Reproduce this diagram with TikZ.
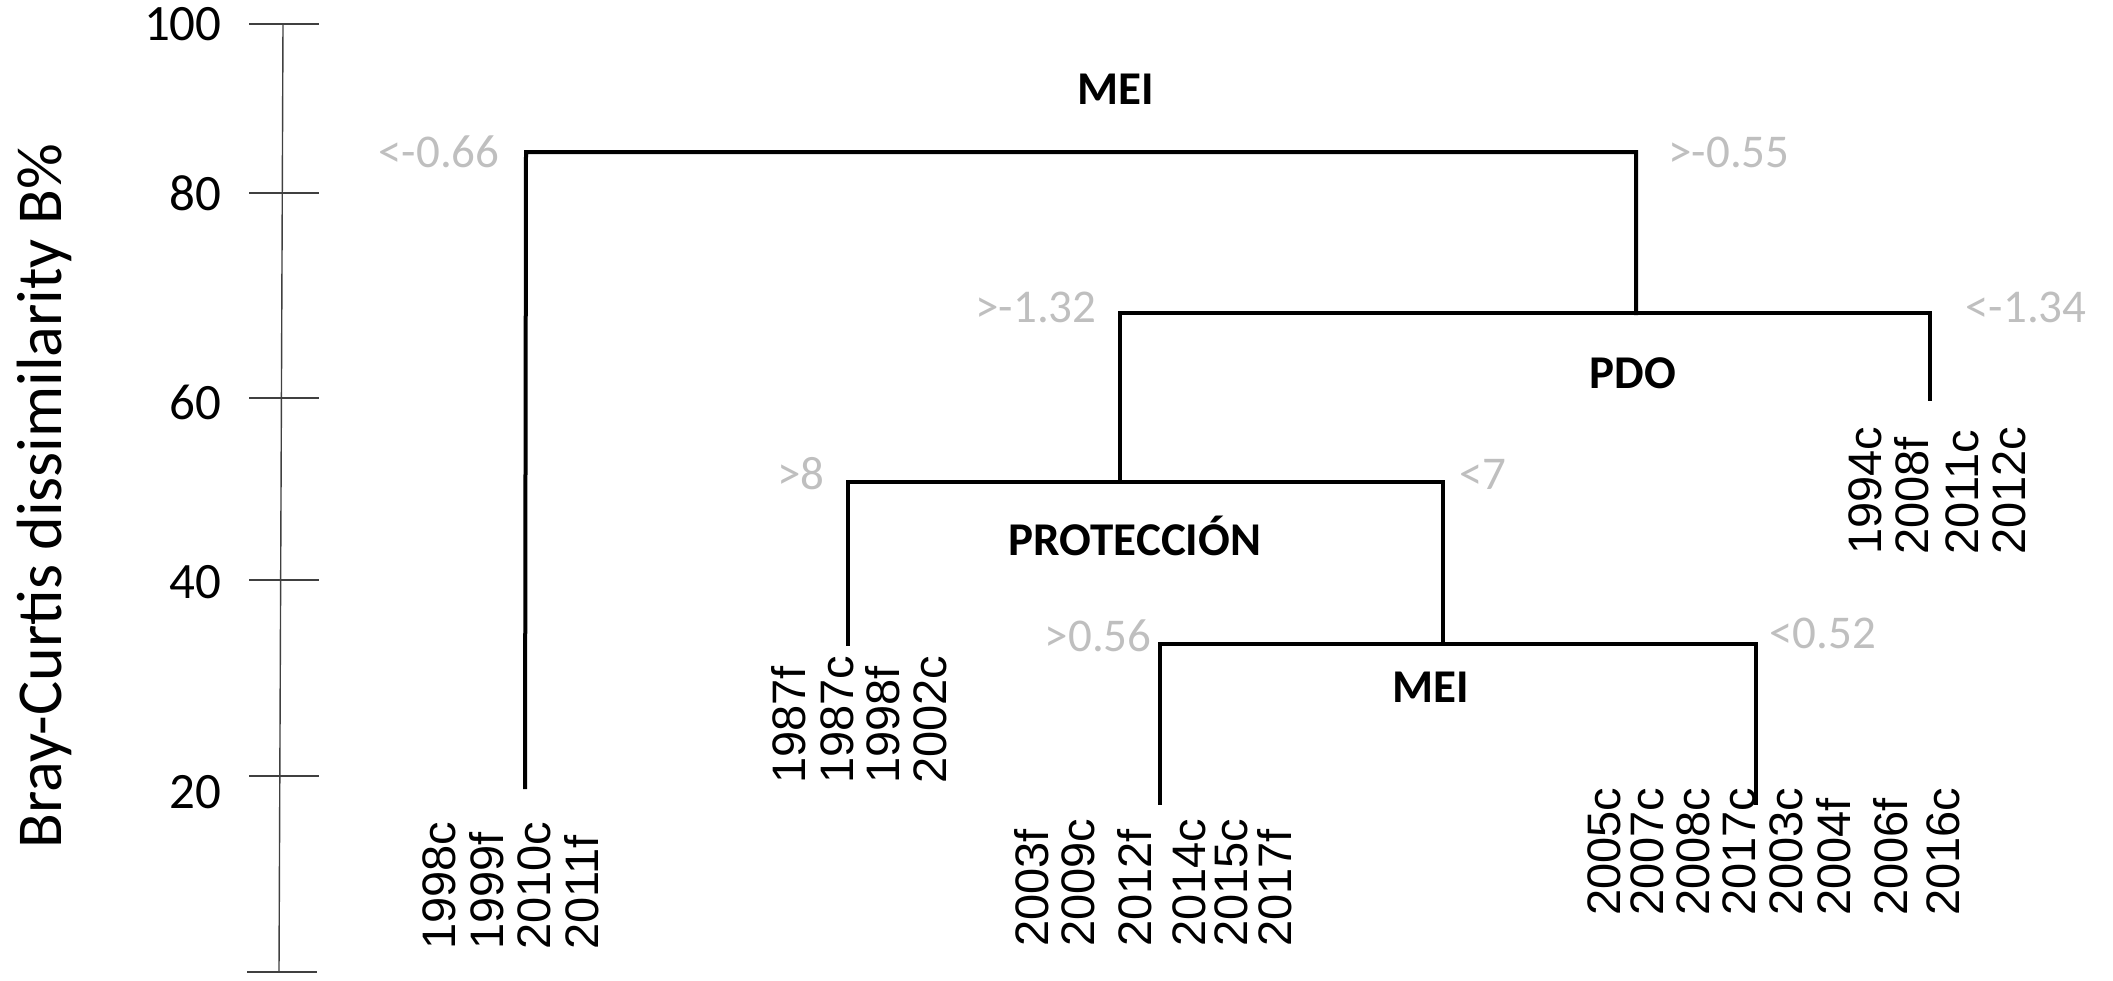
\documentclass[tikz,border=0pt]{standalone}
\usepackage{fontspec}
\setmainfont{Carlito}
\newfontfamily\leaffont{Liberation Sans}
\definecolor{thr}{HTML}{BFBFBF}
\definecolor{axisc}{HTML}{404040}
\newcommand{\lf}[1]{{\leaffont\fontsize{23.5}{28}\selectfont #1}}
\tikzset{
  dend/.style={line width=2pt, black, line cap=rect},
  axisline/.style={line width=0.7pt, axisc},
  ticklab/.style={anchor=east, inner sep=0pt, font=\fontsize{25.5}{30}\selectfont},
  thrL/.style={anchor=east, inner sep=0pt, text=thr, font=\fontsize{23.5}{28}\selectfont},
  thrR/.style={anchor=west, inner sep=0pt, text=thr, font=\fontsize{23.5}{28}\selectfont},
  factor/.style={inner sep=0pt, font=\fontsize{23.5}{28}\selectfont\bfseries},
  leaf/.style={rotate=90, anchor=base west, inner sep=0pt},
}
\begin{document}
\begin{tikzpicture}[x=0.5pt,y=-0.5pt]
\useasboundingbox (0,0) rectangle (2113,980);
% axis
\coordinate (atop) at (283,24);
\coordinate (abot) at (279,972);
\draw[axisline] (atop) -- (abot);
\foreach \yy/\lab/\ly in {24/100/24, 193/80/193, 398/60/402, 580/40/582, 776/20/792} {
  \draw[axisline] (249,\yy) -- (319,\yy);
  \node[ticklab] (t\lab) at (222,\ly) {\lab};
}
\draw[axisline] (247,972) -- (317,972);
\node[rotate=90, inner sep=0pt, font=\fontsize{32}{38}\selectfont] (ytitle) at (44,496) {Bray-Curtis dissimilarity B\%};

% dendrogram coordinates
\coordinate (a1) at (526,152);
\coordinate (a2) at (1636,152);
\coordinate (a1b) at (525,787);
\coordinate (b1) at (1120,313);
\coordinate (b2) at (1930,313);
\coordinate (b2b) at (1930,399);
\coordinate (a2b) at (1636,313);
\coordinate (c1) at (848,482);
\coordinate (c2) at (1443,482);
\coordinate (b1b) at (1120,482);
\coordinate (c1b) at (848,644);
\coordinate (d1) at (1160,644);
\coordinate (d2) at (1756,644);
\coordinate (c2b) at (1443,644);
\coordinate (d1b) at (1160,803);
\coordinate (d2b) at (1756,803);

\draw[dend] (a1b) -- (a1) -- (a2) -- (a2b);
\draw[dend] (b1b) -- (b1) -- (b2) -- (b2b);
\draw[dend] (c1b) -- (c1) -- (c2) -- (c2b);
\draw[dend] (d1b) -- (d1) -- (d2) -- (d2b);

% threshold labels
\node[thrL] (l1) at (500,152) {<-0.66};
\node[thrR] (r1) at (1668,152) {>-0.55};
\node[thrL] (l2) at (1097,307) {>-1.32};
\node[thrR] (r2) at (1965,307) {<-1.34};
\node[thrL] (l3) at (825,474) {>8};
\node[thrR] (r3) at (1459,474) {<7};
\node[thrL] (l4) at (1152,636) {>0.56};
\node[thrR] (r4) at (1769,633) {<0.52};

% factor labels
\node[factor] (f1) at (1116,89) {MEI};
\node[factor] (f2) at (1633,373) {PDO};
\node[factor] (f3) at (1135,536) {PROTECCIÓN};
\node[factor] (f4) at (1431,687) {MEI};

% leaves
\foreach \xx/\lab/\n in {455/1998c/1, 503/1999f/2, 550/2010c/3, 598/2011f/4}
  \node[leaf] (la\n) at (\xx,950) {\lf{\lab}};
\foreach \xx/\lab/\n in {805/1987f/1, 853/1987c/2, 899/1998f/3, 946/2002c/4}
  \node[leaf] (lb\n) at (\xx,784) {\lf{\lab}};
\foreach \xx/\lab/\n in {1048/2003f/1, 1094/2009c/2, 1151/2012f/3, 1205/2014c/4, 1247/2015c/5, 1291/2017f/6}
  \node[leaf] (lc\n) at (\xx,947) {\lf{\lab}};
\foreach \xx/\lab/\n in {1620/2005c/1, 1663/2007c/2, 1709/2008c/3, 1755/2017c/4, 1802/2003c/5, 1850/2004f/6, 1907/2006f/7, 1959/2016c/8}
  \node[leaf] (ld\n) at (\xx,916) {\lf{\lab}};
\foreach \xx/\lab/\n in {1881/1994c/1, 1928/2008f/2, 1978/2011c/3, 2025/2012c/4}
  \node[leaf] (le\n) at (\xx,555) {\lf{\lab}};
\end{tikzpicture}
\end{document}
